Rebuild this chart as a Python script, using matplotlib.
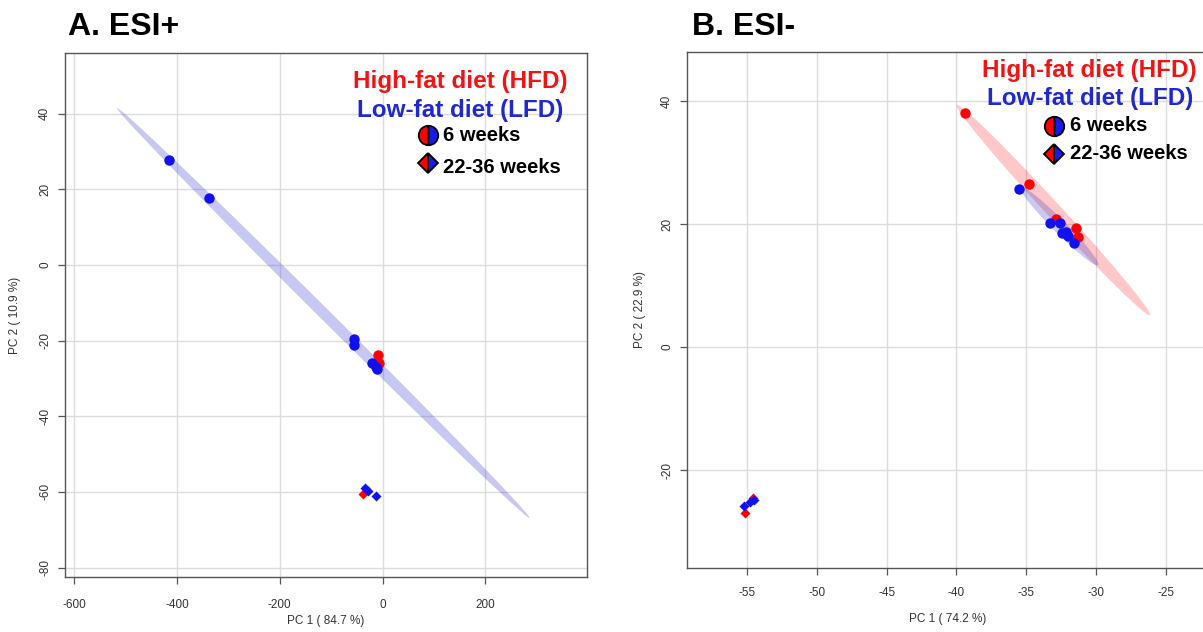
import numpy as np
import matplotlib
matplotlib.use('Agg')
import matplotlib.pyplot as plt
from matplotlib.patches import Polygon, Rectangle
from matplotlib.lines import Line2D

plt.rcParams['font.family'] = ['Liberation Sans', 'DejaVu Sans']

# ---------------- data ----------------
# Panel A (ESI+)
A_hfd6_x = [-8, -6]
A_hfd6_y = [-23.8, -25.9]
A_lfd6_x = [-415, -337, -55, -55, -20, -13.6, -11]
A_lfd6_y = [27.8, 17.7, -19.6, -21.2, -26.0, -26.9, -27.6]
A_hfd22_x = [-38]
A_hfd22_y = [-60.6]
A_lfd22_x = [-34, -28, -12]
A_lfd22_y = [-59.0, -59.8, -61.0]
A_lfd6_ellipse = [(-516.6, 41.5), (286.5, -66.9)]   # major-axis end points
A_xticks = [-600, -400, -200, 0, 200]
A_yticks = [-80, -60, -40, -20, 0, 20, 40]
A_xlabel = "PC 1 ( 84.7 %)"
A_ylabel = "PC 2 ( 10.9 %)"

# Panel B (ESI-)
B_hfd6_x = [-39.38, -34.77, -32.86, -31.43, -31.27]
B_hfd6_y = [38.1, 26.45, 20.8, 19.3, 17.9]
B_lfd6_x = [-35.52, -33.29, -32.58, -32.46, -32.15, -31.98, -31.58]
B_lfd6_y = [25.7, 20.2, 20.1, 18.6, 18.75, 18.1, 16.96]
B_hfd22_x = [-55.14, -54.55]
B_hfd22_y = [-26.9, -24.6]
B_lfd22_x = [-55.2, -54.8, -54.5]
B_lfd22_y = [-25.9, -25.2, -24.9]
B_hfd6_ellipse = [(-39.98, 39.35), (-26.13, 5.2)]
B_lfd6_ellipse = [(-35.44, 26.07), (-29.84, 13.33)]
B_xticks = [-55, -50, -45, -40, -35, -30, -25]
B_yticks = [-20, 0, 20, 40]
B_xlabel = "PC 1 ( 74.2 %)"
B_ylabel = "PC 2 ( 22.9 %)"

RED = '#FF0000'
BLUE = '#1010F0'
TXT_RED = '#F01414'
TXT_BLUE = '#2028D0'

W, H = 1203, 632
fig = plt.figure(figsize=(W / 100, H / 100), dpi=100)


def fx(px):
    return px / W


def fy(py):
    return 1 - py / H


def make_axes(l, r, t, b, xlim, ylim, xticks, yticks, xpad):
    ax = fig.add_axes([fx(l), fy(b), fx(r - l), (b - t) / H])
    ax.set_xlim(*xlim)
    ax.set_ylim(*ylim)
    ax.set_xticks(xticks)
    ax.set_yticks(yticks)
    ax.set_xticklabels([str(v) for v in xticks])
    ax.set_yticklabels([str(v) for v in yticks], rotation=90, va='center')
    ax.grid(True, color='#DCDCDC', lw=1.0, zorder=0)
    ax.set_axisbelow(True)
    for s in ax.spines.values():
        s.set_color('#555555')
        s.set_linewidth(1.0)
    ax.tick_params(axis='both', direction='out', length=5, width=0.9,
                   color='#555555', labelcolor='#333333', labelsize=8.5)
    ax.tick_params(axis='x', pad=xpad)
    ax.tick_params(axis='y', pad=5)
    return ax


def white_box(ax, x0, y0, x1, y1):
    inv = ax.transData.inverted()
    p0 = inv.transform((x0, H - y1))
    p1 = inv.transform((x1, H - y0))
    ax.add_patch(Rectangle(p0, p1[0] - p0[0], p1[1] - p0[1], fc='white',
                           ec='none', zorder=0.5))


def ellipse(ax, ends, half_w_px, color, alpha, z):
    T = ax.transData
    d1 = T.transform(ends[0])
    d2 = T.transform(ends[1])
    c = (d1 + d2) / 2
    u = (d2 - d1) / 2
    n = np.array([-u[1], u[0]]) / np.hypot(*u) * half_w_px
    t = np.linspace(0, 2 * np.pi, 300)
    pts = c + np.outer(np.cos(t), u) + np.outer(np.sin(t), n)
    ax.add_patch(Polygon(T.inverted().transform(pts), closed=True, fc=color,
                         ec='none', alpha=alpha, zorder=1))


def legend(xr_hfd, xr_lfd, base_hfd, base_lfd, mx, my6, my22, tx, b6, b22):
    fig.text(fx(xr_hfd), fy(base_hfd), "High-fat diet (HFD)", color=TXT_RED,
             fontsize=17.5, fontweight='bold', ha='right', va='baseline')
    fig.text(fx(xr_lfd), fy(base_lfd), "Low-fat diet (LFD)", color=TXT_BLUE,
             fontsize=17.5, fontweight='bold', ha='right', va='baseline')
    fig.add_artist(Line2D([fx(mx)], [fy(my6)], transform=fig.transFigure,
                          marker='o', markersize=14, fillstyle='left',
                          markerfacecolor=RED, markerfacecoloralt='#1A1AE6',
                          markeredgecolor='black', markeredgewidth=1.3, ls='none'))
    fig.add_artist(Line2D([fx(mx)], [fy(my22)], transform=fig.transFigure,
                          marker='D', markersize=10.5, fillstyle='left',
                          markerfacecolor=RED, markerfacecoloralt='#1A1AE6',
                          markeredgecolor='black', markeredgewidth=1.3, ls='none'))
    fig.text(fx(tx), fy(b6), "6 weeks", color='black', fontsize=14.5,
             fontweight='bold', ha='left', va='baseline')
    fig.text(fx(tx), fy(b22), "22-36 weeks", color='black', fontsize=14.5,
             fontweight='bold', ha='left', va='baseline')


# ---------------- Panel A ----------------
axA = make_axes(65, 587, 53.3, 577, (-618, 398), (-82.5, 56.0), A_xticks, A_yticks, 11)
white_box(axA, 342, 55, 583, 132)
ellipse(axA, A_lfd6_ellipse, 5.5, '#3333CC', 0.27, 1)
axA.plot(A_hfd6_x, A_hfd6_y, 'o', color=RED, ms=7.5, mec='none', zorder=2)
axA.plot(A_lfd6_x, A_lfd6_y, 'o', color=BLUE, ms=7.5, mec='none', zorder=3)
axA.plot(A_hfd22_x, A_hfd22_y, 'D', color=RED, ms=4.6, mec='none', zorder=2)
axA.plot(A_lfd22_x, A_lfd22_y, 'D', color=BLUE, ms=4.6, mec='none', zorder=3)

# ---------------- Panel B ----------------
axB = make_axes(687, 1209, 51.7, 568, (-59.3, -21.9), (-35.9, 48.0), B_xticks, B_yticks, 9)
white_box(axB, 972, 53, 1215, 140)
ellipse(axB, B_hfd6_ellipse, 7.5, '#FF0000', 0.22, 1)
ellipse(axB, B_lfd6_ellipse, 6.5, '#3333CC', 0.26, 1)
axB.plot(B_hfd6_x, B_hfd6_y, 'o', color=RED, ms=7.5, mec='none', zorder=2)
axB.plot(B_lfd6_x, B_lfd6_y, 'o', color=BLUE, ms=7.5, mec='none', zorder=3)
axB.plot(B_hfd22_x, B_hfd22_y, 'D', color=RED, ms=4.6, mec='none', zorder=2)
axB.plot(B_lfd22_x, B_lfd22_y, 'D', color=BLUE, ms=4.6, mec='none', zorder=3)

# axis titles
fig.text(fx(326), fy(621), A_xlabel, fontsize=8.5, color='#333333', ha='center', va='center')
fig.text(fx(15), fy(315), A_ylabel, fontsize=8.5, color='#333333', ha='center', va='center', rotation=90)
fig.text(fx(948), fy(619), B_xlabel, fontsize=8.5, color='#333333', ha='center', va='center')
fig.text(fx(640), fy(310), B_ylabel, fontsize=8.5, color='#333333', ha='center', va='center', rotation=90)

# panel titles
fig.text(fx(68), fy(35), "A. ESI+", fontsize=23, fontweight='bold', ha='left', va='baseline')
fig.text(fx(692), fy(35), "B. ESI-", fontsize=23, fontweight='bold', ha='left', va='baseline')

# legends
legend(568, 563, 88.3, 116.7, 427.7, 135, 163.3, 442.7, 140.7, 172.7)
legend(1196.7, 1193, 76.7, 105, 1054.3, 125.7, 154.3, 1070, 130.7, 159.3)

fig.savefig('out.png', dpi=100)
